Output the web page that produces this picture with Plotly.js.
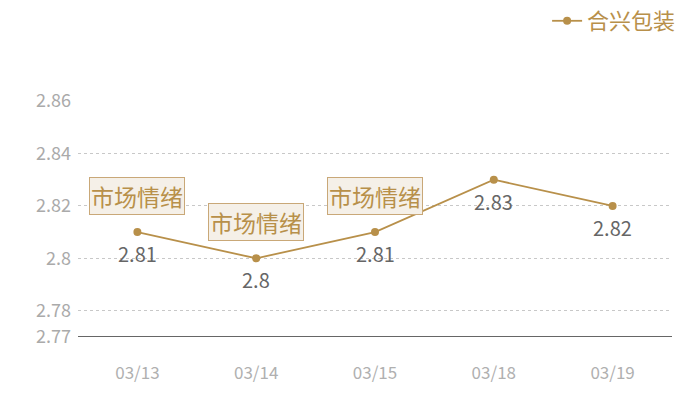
<!DOCTYPE html>
<html>
<head>
<meta charset="utf-8">
<script src="https://cdn.plot.ly/plotly-3.0.1.min.js"></script>
<style>body{margin:0;} #chart{width:700px;height:400px;}</style>
</head>
<body>
<div id="chart"></div>
<script>
var dates = ['03/13', '03/14', '03/15', '03/18', '03/19'];
var prices = [2.81, 2.80, 2.81, 2.83, 2.82];
var seriesName = '合兴包装';
var noteText = '市场情绪';
var noteDates = ['03/13', '03/14', '03/15'];
var yTicks = [2.77, 2.78, 2.8, 2.82, 2.84, 2.86];

var gold = '#b8904a';
var cjk = '"Noto Sans CJK SC", "Noto Sans", sans-serif';

var trace = {
    x: dates, y: prices, name: seriesName, type: 'scatter', mode: 'lines+markers',
    line: {color: gold, width: 1.8}, marker: {color: gold, size: 8},
    cliponaxis: false
};

// value labels under each point
var valueLabels = dates.map(function(d, i) {
    return {x: d, y: prices[i], xref: 'x', yref: 'y', text: String(prices[i]),
        showarrow: false, yanchor: 'top', yshift: -5,
        font: {family: cjk, size: 20, color: '#666'}};
});

var notes = noteDates.map(function(d) {
    return {x: d, y: prices[dates.indexOf(d)], xref: 'x', yref: 'y', text: noteText,
        showarrow: false, yanchor: 'bottom', yshift: 17,
        font: {family: cjk, size: 23, color: gold},
        bgcolor: '#f5f0e8', bordercolor: '#c9a878', borderwidth: 1, borderpad: 1};
});

var layout = {
    width: 700, height: 400,
    margin: {l: 78, r: 28, t: 101, b: 63},
    paper_bgcolor: 'white', plot_bgcolor: 'white',
    showlegend: true,
    legend: {xref: 'container', yref: 'container', x: 0.973, xanchor: 'right',
             y: 1, yanchor: 'top', orientation: 'h',
             font: {family: cjk, size: 22, color: gold}, bgcolor: 'rgba(0,0,0,0)'},
    xaxis: {type: 'category', range: [-0.5, 4.5], showgrid: false, zeroline: false,
            showline: false, ticks: '', ticklabelstandoff: 24, automargin: false,
            tickfont: {family: cjk, size: 17, color: '#b0b0b0'}},
    yaxis: {range: [2.77, 2.86], tickvals: yTicks, ticktext: yTicks.map(String),
            showgrid: true, gridcolor: '#c8c8c8', griddash: 'dot', gridwidth: 1,
            zeroline: false, showline: false, ticks: '', ticklabelstandoff: 6,
            automargin: false, tickfont: {family: cjk, size: 18, color: '#aaa'}},
    shapes: [{type: 'line', xref: 'paper', x0: 0, x1: 1, yref: 'y', y0: 2.77, y1: 2.77,
              layer: 'above', line: {color: '#333', width: 1.3}}],
    annotations: valueLabels.concat(notes)
};

Plotly.newPlot('chart', [trace], layout, {displayModeBar: false});
</script>
</body>
</html>
